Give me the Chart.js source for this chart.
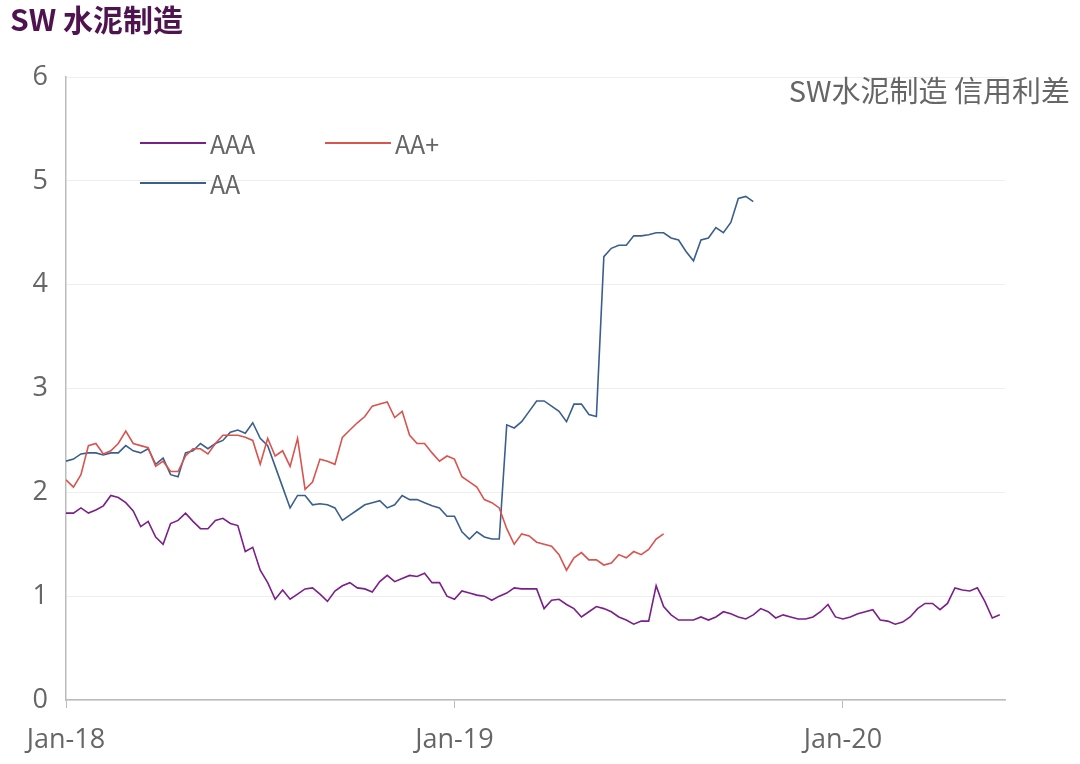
<!DOCTYPE html>
<html><head><meta charset="utf-8">
<script src="https://cdn.jsdelivr.net/npm/chart.js@4"></script>
<style>
body{margin:0;background:#fff;font-family:"Noto Sans CJK SC","Open Sans",sans-serif;}
#wrap{position:relative;width:1080px;height:764px;}
#title{position:absolute;left:10px;top:-4px;font-size:30px;font-weight:bold;color:#4f1450;}
#sub{position:absolute;right:10px;top:68px;font-size:29px;color:#666;}
.lg{position:absolute;font-size:25px;color:#666;display:flex;align-items:center;}
.lg span{display:inline-block;width:66px;height:2px;margin-right:4px;}
</style></head><body>
<div id="wrap">
<canvas id="c" width="1080" height="764"></canvas>
<div id="title">SW 水泥制造</div>
<div id="sub">SW水泥制造 信用利差</div>
<div class="lg" style="left:140px;top:125px"><span style="background:#7b1f8a"></span>AAA</div>
<div class="lg" style="left:325px;top:125px"><span style="background:#d9534f"></span>AA+</div>
<div class="lg" style="left:140px;top:165px"><span style="background:#3b5f8c"></span>AA</div>
</div>
<script>
var tickLabels = ["Jan-18", "Jan-19", "Jan-20"];
var tickWeeks = [0, 52, 104];
var aaa = [1.8,1.8,1.85,1.8,1.83,1.87,1.97,1.95,1.9,1.82,1.67,1.72,1.57,1.5,1.7,1.73,1.8,1.72,1.65,1.65,1.73,1.75,1.7,1.68,1.43,1.47,1.25,1.13,0.97,1.06,0.97,1.02,1.07,1.08,1.02,0.95,1.05,1.1,1.13,1.08,1.07,1.04,1.14,1.2,1.14,1.17,1.2,1.19,1.22,1.13,1.13,1.0,0.97,1.05,1.03,1.01,1.0,0.96,1.0,1.03,1.08,1.07,1.07,1.07,0.88,0.96,0.97,0.92,0.88,0.8,0.85,0.9,0.88,0.85,0.8,0.77,0.73,0.76,0.76,1.1,0.9,0.82,0.77,0.77,0.77,0.8,0.77,0.8,0.85,0.83,0.8,0.78,0.82,0.88,0.85,0.79,0.82,0.8,0.78,0.78,0.8,0.85,0.92,0.8,0.78,0.8,0.83,0.85,0.87,0.77,0.76,0.73,0.75,0.8,0.88,0.93,0.93,0.87,0.93,1.08,1.06,1.05,1.08,0.95,0.79,0.82];
var aaPlus = [2.12,2.05,2.17,2.45,2.47,2.37,2.4,2.47,2.59,2.47,2.45,2.43,2.25,2.3,2.2,2.2,2.35,2.42,2.42,2.37,2.47,2.55,2.55,2.55,2.53,2.5,2.27,2.52,2.35,2.4,2.25,2.52,2.03,2.1,2.32,2.3,2.27,2.53,2.6,2.67,2.73,2.83,2.85,2.87,2.72,2.78,2.55,2.47,2.47,2.38,2.3,2.35,2.32,2.15,2.1,2.05,1.93,1.9,1.85,1.65,1.5,1.6,1.58,1.52,1.5,1.48,1.4,1.25,1.37,1.42,1.35,1.35,1.3,1.32,1.4,1.37,1.43,1.4,1.45,1.55,1.6];
var aa = [2.3,2.32,2.37,2.38,2.38,2.36,2.38,2.38,2.45,2.4,2.38,2.42,2.27,2.33,2.17,2.15,2.38,2.4,2.47,2.42,2.47,2.5,2.58,2.6,2.57,2.67,2.52,2.45,2.25,2.05,1.85,1.97,1.97,1.88,1.89,1.88,1.85,1.73,1.78,1.83,1.88,1.9,1.92,1.85,1.88,1.97,1.93,1.93,1.9,1.87,1.85,1.77,1.77,1.62,1.55,1.62,1.57,1.55,1.55,2.65,2.62,2.68,2.78,2.88,2.88,2.83,2.78,2.68,2.85,2.85,2.75,2.73,4.27,4.35,4.38,4.38,4.47,4.47,4.48,4.5,4.5,4.45,4.43,4.32,4.23,4.43,4.45,4.55,4.5,4.6,4.83,4.85,4.8];

function pts(arr){ return arr.map(function(v,i){ return {x:i, y:v}; }); }
function ds(arr, color){
  return {data: pts(arr), borderColor: color, borderWidth: 1.6, pointRadius: 0, tension: 0, fill: false};
}

new Chart(document.getElementById('c').getContext('2d'), {
  type: 'line',
  data: { datasets: [ds(aaa, '#7b1f8a'), ds(aaPlus, '#d9534f'), ds(aa, '#3b5f8c')] },
  options: {
    responsive: false,
    animation: false,
    layout: {padding: {top: 77, right: 75, left: 0, bottom: 0}},
    plugins: {legend: {display: false}, tooltip: {enabled: false}},
    scales: {
      x: {
        type: 'linear', min: 0, max: 125.7,
        afterBuildTicks: function(s){ s.ticks = tickWeeks.map(function(v){ return {value: v}; }); },
        afterFit: function(s){ s.height = 64; },
        ticks: {autoSkip: false, maxRotation: 0, color: '#666', font: {size: 27, family: 'Open Sans'}, padding: 16,
          callback: function(v){ var i = tickWeeks.indexOf(v); return i >= 0 ? tickLabels[i] : ''; }},
        grid: {drawOnChartArea: false, drawTicks: true, tickLength: 8, color: '#bbb'},
        border: {color: '#bbb', width: 1.5}
      },
      y: {
        min: 0, max: 6,
        afterFit: function(s){ s.width = 66; },
        ticks: {stepSize: 1, color: '#666', font: {size: 27, family: 'Open Sans'}, padding: 18},
        grid: {color: '#eeeeee', drawTicks: false},
        border: {color: '#bbb', width: 1.5}
      }
    }
  }
});
</script>
</body></html>
